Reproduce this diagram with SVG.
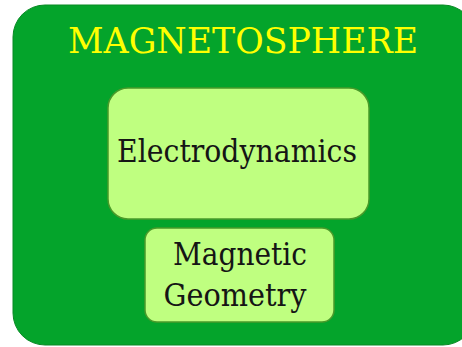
<svg xmlns="http://www.w3.org/2000/svg" width="462" height="347" viewBox="0 0 462 347">
<style>
.box{fill:#bfff80;stroke:#4a9a2a;stroke-width:1.5}
.lbl{font-family:'DejaVu Serif',serif;font-size:32px;fill:#151515;text-anchor:middle}
.title{font-family:'DejaVu Serif',serif;font-size:35px;fill:#ffff00;text-anchor:middle}
</style>
<rect width="462" height="347" fill="#ffffff"/>
<g id="magnetosphere">
<rect x="13" y="5" width="462" height="340" rx="32" ry="32" fill="#04a42b" stroke="#088a24" stroke-width="1"/>
<text class="title" x="243" y="53" textLength="350" lengthAdjust="spacingAndGlyphs">MAGNETOSPHERE</text>
</g>
<g id="electrodynamics">
<rect class="box" x="108" y="88" width="261" height="131" rx="20" ry="20"/>
<text class="lbl" x="237" y="162" textLength="240" lengthAdjust="spacingAndGlyphs">Electrodynamics</text>
</g>
<g id="magnetic-geometry">
<rect class="box" x="145" y="228" width="189" height="94" rx="12" ry="12"/>
<text class="lbl" x="240" y="265" textLength="134" lengthAdjust="spacingAndGlyphs">Magnetic</text>
<text class="lbl" x="235" y="306" textLength="143" lengthAdjust="spacingAndGlyphs">Geometry</text>
</g>
<g id="connectors"/>
</svg>
